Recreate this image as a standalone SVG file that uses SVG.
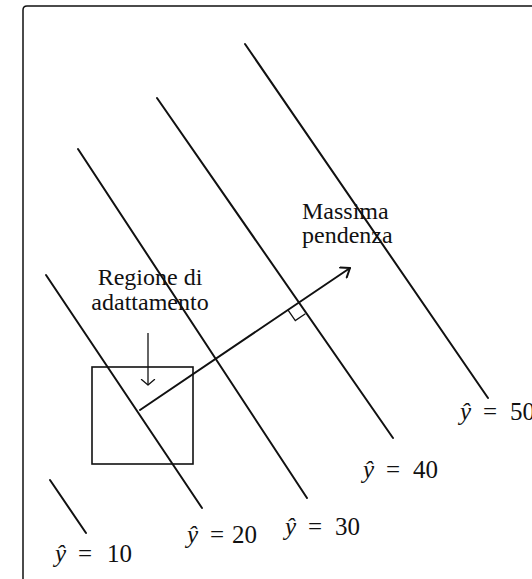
<svg xmlns="http://www.w3.org/2000/svg" width="532" height="579" viewBox="0 0 532 579">
<style>
.frame{fill:none;stroke:#111;stroke-width:1.5}
.contour{fill:none;stroke:#111;stroke-width:2;stroke-linecap:round}
.arrow{fill:none;stroke:#111;stroke-width:2;stroke-linecap:round}
.thin{fill:none;stroke:#111;stroke-width:1.3}
.box{fill:none;stroke:#111;stroke-width:1.6}
text{font-family:"Liberation Serif","Times New Roman",serif;font-size:25px;fill:#111}
.lbl{font-size:24px}
.it{font-style:italic}
</style>
<defs>
<marker id="vhead" viewBox="0 0 12 14" refX="10" refY="7" markerWidth="12" markerHeight="14" markerUnits="userSpaceOnUse" orient="auto">
<path d="M2,1 L10,7 L2,13" fill="none" stroke="#111" stroke-width="2" stroke-linecap="round" stroke-linejoin="round"/>
</marker>
<marker id="vhead-s" viewBox="0 0 8 16" refX="6.5" refY="8" markerWidth="8" markerHeight="16" markerUnits="userSpaceOnUse" orient="auto">
<path d="M1,1.5 L6.5,8 L1,14.5" fill="none" stroke="#111" stroke-width="1.3" stroke-linecap="round" stroke-linejoin="round"/>
</marker>
</defs>
<rect width="532" height="579" fill="#fff"/>
<path class="frame" d="M23,579 V10 Q23,6 27,6 H532"/>
<g id="contours">
<g id="c10"><line class="contour" x1="50" y1="480" x2="86" y2="533"/><text x="55" y="562"><tspan class="it">ŷ</tspan><tspan x="78">=</tspan><tspan x="107">10</tspan></text></g>
<g id="c20"><line class="contour" x1="46" y1="275" x2="202" y2="508"/><text x="187" y="543"><tspan class="it">ŷ</tspan><tspan x="210">=</tspan><tspan x="232">20</tspan></text></g>
<g id="c30"><line class="contour" x1="78" y1="149" x2="307" y2="498"/><text x="285" y="535"><tspan class="it">ŷ</tspan><tspan x="308">=</tspan><tspan x="335">30</tspan></text></g>
<g id="c40"><line class="contour" x1="157" y1="98" x2="393" y2="438"/><text x="363" y="478"><tspan class="it">ŷ</tspan><tspan x="386">=</tspan><tspan x="413">40</tspan></text></g>
<g id="c50"><line class="contour" x1="245" y1="44" x2="488" y2="398"/><text x="460" y="420"><tspan class="it">ŷ</tspan><tspan x="483">=</tspan><tspan x="510">50</tspan></text></g>
</g>
<g id="region">
<rect class="box" x="92" y="367" width="101" height="97"/>
<text class="lbl" x="150" y="285" text-anchor="middle">Regione di</text>
<text class="lbl" x="150" y="310" text-anchor="middle">adattamento</text>
</g>
<g id="steepest">
<text class="lbl" x="302" y="219">Massima</text>
<text class="lbl" x="302" y="243">pendenza</text>
</g>
<g id="connectors">
<line class="thin" x1="148" y1="333" x2="148" y2="385" marker-end="url(#vhead-s)"/>
<line class="arrow" x1="140" y1="410" x2="350" y2="268" marker-end="url(#vhead)"/>
<path class="thin" d="M287.9,309.8 L295.3,320.5 L305.4,313.7"/>
</g>
</svg>
